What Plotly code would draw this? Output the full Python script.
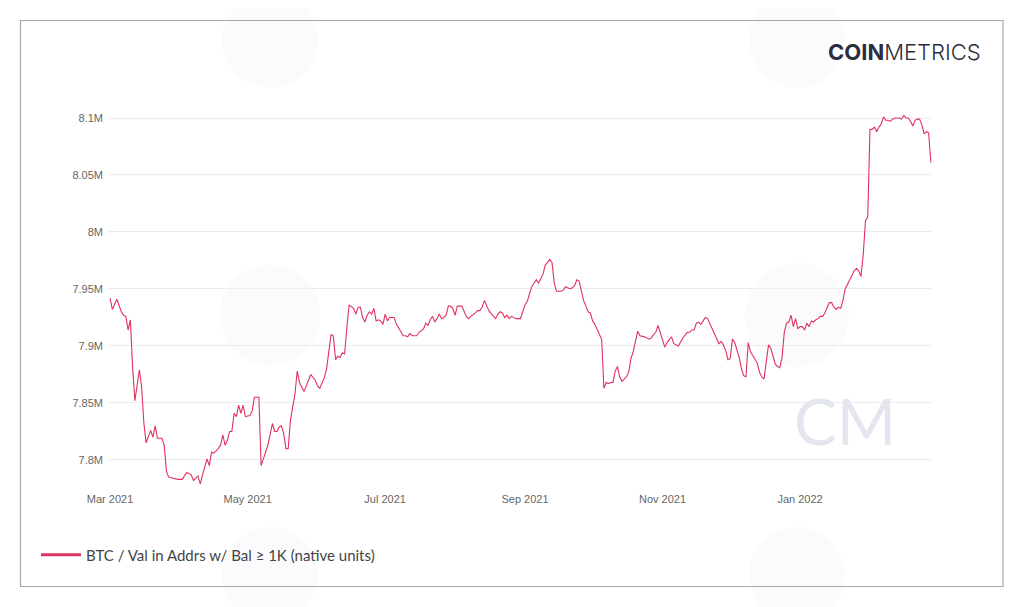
import pandas as pd
import plotly.graph_objects as go

# days since 2021-03-01
day = [
    0, 1, 3, 5, 6, 7, 8, 9, 10, 11, 13, 14, 15, 16, 18, 19, 20, 21, 23, 24,
    25, 26, 28, 30, 32, 34, 36, 37, 39, 40, 41, 43, 44, 45, 46, 48, 49, 50, 51, 52,
    53, 54, 55, 56, 57, 58, 59, 60, 62, 63, 64, 66, 67, 68, 69, 70, 72, 73, 74, 75,
    76, 77, 78, 79, 80, 81, 82, 83, 84, 86, 88, 89, 91, 92, 93, 95, 96, 97, 98, 99,
    100, 101, 102, 103, 104, 105, 106, 108, 109, 110, 111, 112, 113, 114, 115, 116, 117, 118, 119, 120,
    121, 122, 123, 124, 126, 127, 128, 130, 131, 132, 133, 134, 136, 137, 139, 140, 141, 142, 143, 144,
    145, 146, 147, 148, 149, 150, 151, 152, 153, 154, 156, 157, 158, 159, 160, 162, 163, 164, 165, 166,
    167, 168, 170, 171, 172, 173, 174, 175, 176, 177, 178, 179, 180, 181, 182, 183, 184, 185, 187, 188,
    189, 190, 191, 192, 193, 194, 195, 196, 197, 198, 200, 201, 202, 204, 205, 206, 207, 208, 209, 210,
    211, 212, 213, 214, 215, 216, 217, 218, 219, 220, 221, 222, 223, 224, 225, 226, 227, 228, 229, 230,
    231, 232, 233, 234, 235, 237, 239, 240, 241, 242, 243, 244, 245, 246, 247, 248, 249, 250, 251, 252,
    254, 255, 256, 257, 258, 259, 260, 261, 262, 263, 264, 265, 267, 268, 269, 270, 271, 272, 273, 274,
    275, 276, 277, 279, 280, 281, 282, 283, 284, 285, 286, 287, 288, 289, 290, 291, 292, 293, 294, 295,
    296, 297, 298, 299, 300, 301, 302, 303, 304, 305, 306, 307, 308, 309, 310, 311, 312, 313, 314, 315,
    316, 317, 318, 319, 320, 321, 322, 323, 324, 325, 326, 327, 328, 329, 330, 331, 332, 333, 334, 335,
    336, 337, 338, 339, 340, 341, 342, 343, 344, 345, 346, 347, 348, 349, 350, 351, 352, 353, 354, 355,
    356, 357, 358, 359, 360, 361, 362, 363, 364,
]

# BTC held in addresses with balance >= 1K, millions
btc_m = [
    7.942, 7.932, 7.941, 7.930, 7.927, 7.926, 7.914, 7.923, 7.881, 7.852, 7.879, 7.864, 7.832, 7.815, 7.826, 7.820, 7.830, 7.819, 7.819, 7.813,
    7.790, 7.785, 7.784, 7.783, 7.783, 7.789, 7.787, 7.782, 7.786, 7.779, 7.787, 7.801, 7.795, 7.807, 7.806, 7.810, 7.813, 7.822, 7.813, 7.817,
    7.825, 7.825, 7.841, 7.838, 7.848, 7.841, 7.848, 7.838, 7.839, 7.843, 7.855, 7.855, 7.795, 7.801, 7.809, 7.813, 7.832, 7.825, 7.825, 7.829,
    7.830, 7.823, 7.810, 7.810, 7.835, 7.845, 7.858, 7.878, 7.868, 7.860, 7.870, 7.875, 7.870, 7.865, 7.863, 7.872, 7.880, 7.895, 7.910, 7.909,
    7.888, 7.891, 7.890, 7.894, 7.893, 7.916, 7.936, 7.933, 7.928, 7.934, 7.934, 7.925, 7.921, 7.927, 7.930, 7.928, 7.933, 7.922, 7.923, 7.922,
    7.919, 7.928, 7.922, 7.925, 7.925, 7.919, 7.916, 7.909, 7.909, 7.908, 7.911, 7.909, 7.909, 7.912, 7.915, 7.920, 7.918, 7.923, 7.926, 7.921,
    7.924, 7.928, 7.924, 7.925, 7.927, 7.935, 7.935, 7.933, 7.927, 7.935, 7.935, 7.931, 7.926, 7.924, 7.926, 7.929, 7.931, 7.931, 7.934, 7.940,
    7.936, 7.931, 7.926, 7.924, 7.928, 7.930, 7.929, 7.925, 7.927, 7.924, 7.926, 7.925, 7.924, 7.924, 7.924, 7.930, 7.936, 7.939, 7.952, 7.955,
    7.958, 7.955, 7.959, 7.963, 7.971, 7.974, 7.976, 7.973, 7.955, 7.948, 7.948, 7.949, 7.952, 7.950, 7.951, 7.953, 7.958, 7.957, 7.948, 7.940,
    7.935, 7.930, 7.929, 7.922, 7.919, 7.914, 7.910, 7.906, 7.863, 7.868, 7.867, 7.868, 7.868, 7.878, 7.882, 7.873, 7.869, 7.871, 7.873, 7.877,
    7.889, 7.895, 7.903, 7.913, 7.909, 7.908, 7.906, 7.907, 7.910, 7.912, 7.918, 7.911, 7.905, 7.899, 7.903, 7.906, 7.908, 7.902, 7.901, 7.900,
    7.907, 7.910, 7.912, 7.912, 7.914, 7.914, 7.920, 7.921, 7.919, 7.922, 7.925, 7.924, 7.915, 7.911, 7.906, 7.902, 7.904, 7.901, 7.896, 7.888,
    7.889, 7.906, 7.903, 7.890, 7.880, 7.874, 7.873, 7.903, 7.895, 7.892, 7.889, 7.885, 7.877, 7.873, 7.871, 7.885, 7.901, 7.898, 7.891, 7.884,
    7.882, 7.881, 7.890, 7.912, 7.920, 7.921, 7.927, 7.917, 7.924, 7.915, 7.917, 7.917, 7.914, 7.920, 7.917, 7.922, 7.921, 7.923, 7.924, 7.926,
    7.926, 7.929, 7.934, 7.938, 7.938, 7.934, 7.932, 7.934, 7.933, 7.940, 7.950, 7.954, 7.957, 7.961, 7.966, 7.968, 7.966, 7.961, 7.980, 8.010,
    8.013, 8.090, 8.090, 8.092, 8.088, 8.092, 8.095, 8.101, 8.098, 8.098, 8.097, 8.099, 8.100, 8.100, 8.100, 8.099, 8.102, 8.100, 8.100, 8.097,
    8.093, 8.098, 8.099, 8.099, 8.094, 8.086, 8.088, 8.087, 8.061,
]

series_name = 'BTC / Val in Addrs w/ Bal ≥ 1K (native units)'
start_date = '2021-03-01'

dates = pd.Timestamp(start_date) + pd.to_timedelta(day, unit='D')
values = [v * 1e6 for v in btc_m]

LINE = '#e0325f'
GRID = '#ececec'
TICK_FONT = dict(family='Liberation Sans, Arial, sans-serif', size=11, color='#666666')

# the page body adds an 8px offset, so targets are shifted back by it
OFF = 8
W, H = 1024, 607
L, R, T, B = 108 - OFF, 932 - OFF, 105 - OFF, 487 - OFF


def px(x):
    return (x - OFF - L) / (R - L)


def py(y):
    return (B - (y - OFF)) / (B - T)


fig = go.Figure()
fig.add_trace(
    go.Scatter(
        x=dates,
        y=values,
        mode='lines',
        name=series_name,
        showlegend=False,
        line=dict(color=LINE, width=1.1),
    )
)
# legend entry with a thicker swatch
fig.add_trace(
    go.Scatter(
        x=[None],
        y=[None],
        mode='lines',
        name=series_name,
        line=dict(color=LINE, width=3),
    )
)

shapes = []
# faint logo watermarks
for cx, cy, r in [(270, 40, 48), (270, 315, 50), (797, 315, 52), (797, 40, 48), (270, 575, 48), (797, 575, 48)]:
    shapes.append(dict(
        type='circle', xref='paper', yref='paper', layer='below',
        x0=px(cx - r), x1=px(cx + r), y0=py(cy + r), y1=py(cy - r),
        fillcolor='#fbfbfd', line=dict(width=0),
    ))
# outer frame
shapes.append(dict(
    type='rect', xref='paper', yref='paper', layer='above',
    x0=px(20.5), x1=px(1003), y0=py(586.5), y1=py(20.5),
    line=dict(color='#a8a8a8', width=1.2), fillcolor='rgba(0,0,0,0)',
))

annotations = [
    dict(
        text='<b>COIN</b>METRICS', xref='paper', yref='paper',
        x=px(983), y=py(52), xanchor='right', yanchor='middle', showarrow=False,
        font=dict(family='Inter, Lato, sans-serif', size=22, color='#2b2d3d', weight=300),
    ),
    dict(
        text='CM', xref='paper', yref='paper',
        x=px(845), y=py(420), xanchor='center', yanchor='middle', showarrow=False,
        font=dict(family='Lato, sans-serif', size=64, color='#e4e6ef', weight=400),
    ),
]

fig.update_layout(
    width=W,
    height=H,
    margin=dict(l=L, r=W - R, t=T, b=H - B, pad=4),
    paper_bgcolor='white',
    plot_bgcolor='rgba(0,0,0,0)',
    showlegend=True,
    legend=dict(
        x=px(36), y=py(555), xanchor='left', yanchor='middle',
        font=dict(family='Lato, sans-serif', size=15, color='#444444'),
        bgcolor='rgba(0,0,0,0)', itemwidth=40,
    ),
    xaxis=dict(
        range=['2021-02-28 02:00', '2022-02-28 12:00'],
        tick0=start_date, dtick='M2', tickformat='%b %Y',
        showgrid=False, zeroline=False, showline=False,
        ticks='', tickfont=TICK_FONT,
    ),
    yaxis=dict(
        range=[7.7763e6, 8.1114e6],
        tick0=7.8e6, dtick=50000, tickformat='~s',
        showgrid=True, gridcolor=GRID, gridwidth=1,
        zeroline=False, showline=False, ticks='', tickfont=TICK_FONT,
    ),
    shapes=shapes,
    annotations=annotations,
)

fig.write_html('out.html')
